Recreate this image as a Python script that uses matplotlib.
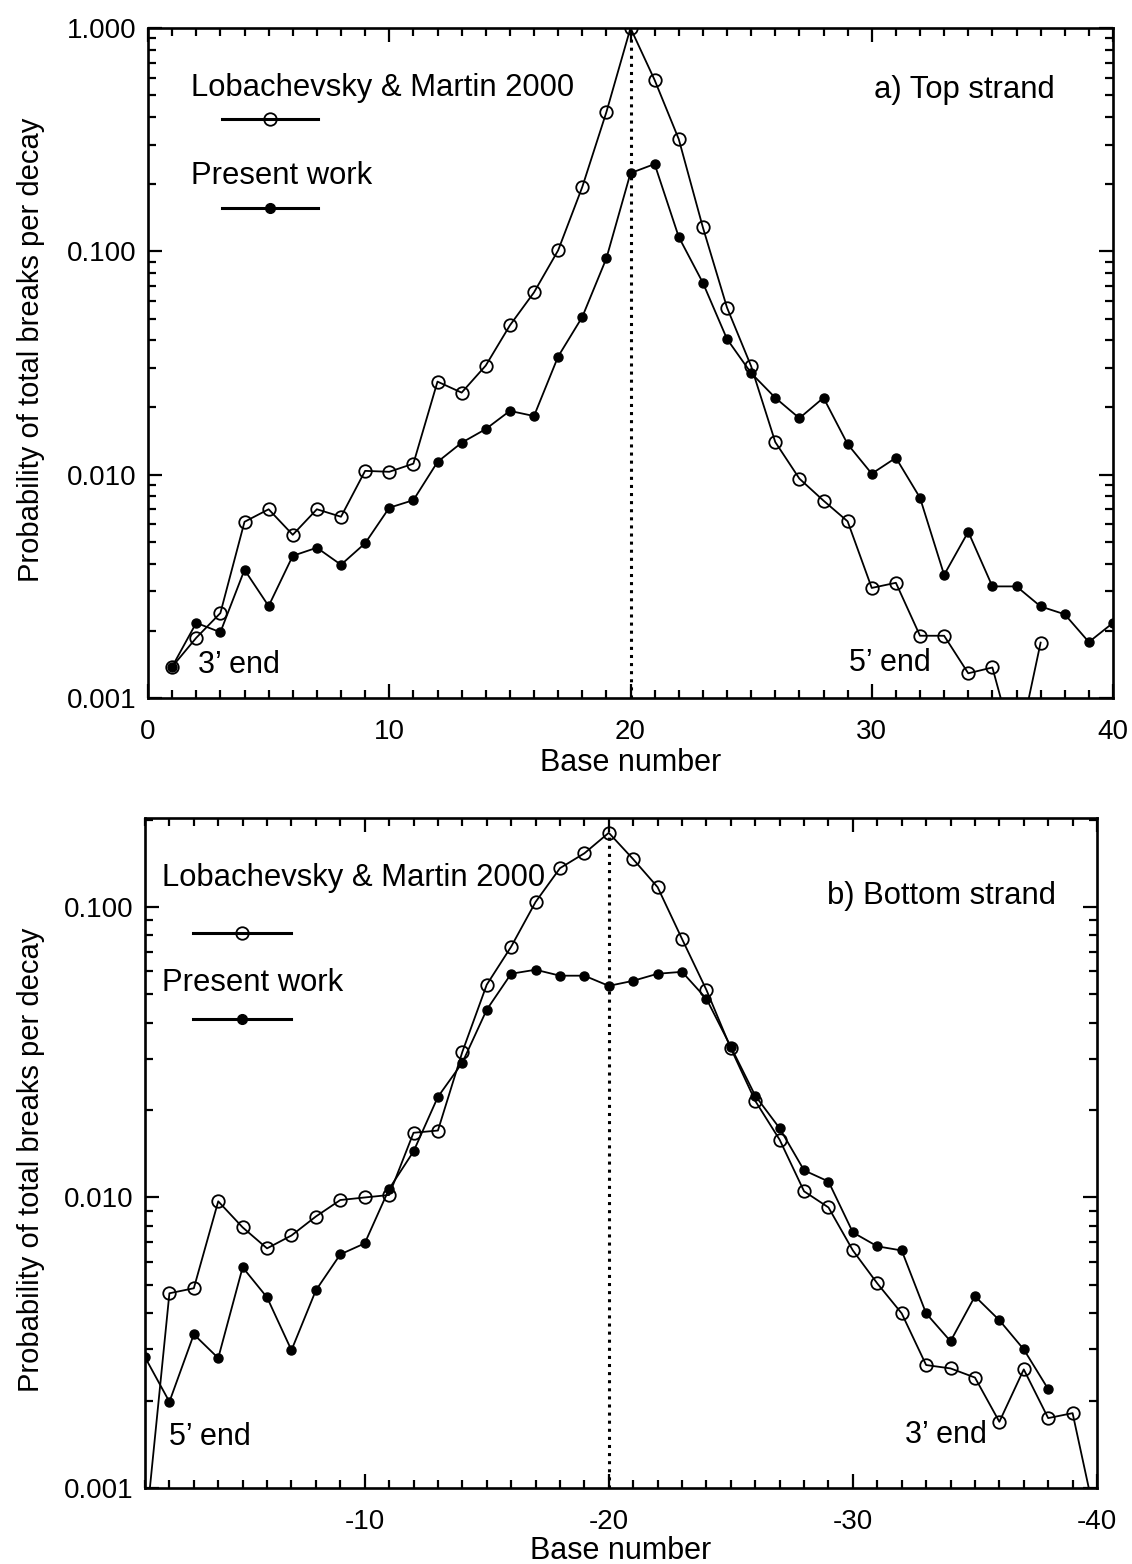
import matplotlib
matplotlib.use('Agg')
import matplotlib.pyplot as plt
import matplotlib.ticker as ticker
import matplotlib.lines as mlines
import numpy as np

plt.rcParams['font.family'] = ['Liberation Sans', 'DejaVu Sans']
plt.rcParams['axes.unicode_minus'] = False

# a) Top strand, base numbers 1..40
top_bases = np.arange(1, 41)
top_lob = [0.00138, 0.00186, 0.0024, 0.00615, 0.0070, 0.00538, 0.0070, 0.00648,
           0.0104, 0.0103, 0.0112, 0.0261, 0.0233, 0.0308, 0.0466, 0.0655,
           0.101, 0.194, 0.42, 1.0, 0.585, 0.318, 0.128, 0.056, 0.0306,
           0.0140, 0.0096, 0.00765, 0.00618, 0.00311, 0.00328, 0.0019, 0.0019,
           0.00129, 0.00137, 0.00055, 0.00177]
top_present = [0.00138, 0.00217, 0.00197, 0.00375, 0.00258, 0.00433, 0.00471,
               0.00395, 0.00493, 0.00711, 0.00769, 0.0114, 0.0139, 0.0160,
               0.0193, 0.0183, 0.0338, 0.0508, 0.093, 0.224, 0.246, 0.116,
               0.0723, 0.0405, 0.0285, 0.0221, 0.0179, 0.0221, 0.0137, 0.0101,
               0.0119, 0.00788, 0.00356, 0.00555, 0.00316, 0.00316, 0.00257,
               0.00237, 0.00178, 0.00217]

# b) Bottom strand, base numbers -1..-40
bottom_bases = -np.arange(1, 41)
bot_lob = [0.00068, 0.00468, 0.00487, 0.0097, 0.00789, 0.00668, 0.0074, 0.0086,
           0.0098, 0.0100, 0.0102, 0.0167, 0.0170, 0.0317, 0.054, 0.073,
           0.104, 0.136, 0.153, 0.18, 0.146, 0.117, 0.0776, 0.0518, 0.0326,
           0.0215, 0.0158, 0.0105, 0.00924, 0.00657, 0.00506, 0.00399, 0.00265,
           0.00258, 0.0024, 0.00169, 0.00256, 0.00174, 0.00181, 0.00074]
bot_present = [0.00282, 0.00198, 0.00338, 0.0028, 0.00575, 0.00453, 0.00298,
               0.00479, 0.00637, 0.00695, 0.0107, 0.0144, 0.0222, 0.0291,
               0.0443, 0.0589, 0.0608, 0.058, 0.058, 0.0535, 0.0557, 0.0589,
               0.0598, 0.0483, 0.0330, 0.0224, 0.0173, 0.0124, 0.01135, 0.00758,
               0.00679, 0.00657, 0.00399, 0.0032, 0.00457, 0.00378, 0.0030,
               0.00219]

fig = plt.figure(figsize=(11.32, 15.64), dpi=100)
ax_top = fig.add_axes([148 / 1132, 1 - 698 / 1564, 965 / 1132, 670 / 1564])
ax_bot = fig.add_axes([145 / 1132, 1 - 1488 / 1564, 952 / 1132, 670 / 1564])

open_style = dict(color='black', lw=1.3, marker='o', markersize=9,
                  markerfacecolor='none', markeredgewidth=1.3)
filled_style = dict(color='black', lw=1.3, marker='o', markersize=6.5)


def style_axes(ax, ylim, yticks):
    ax.set_yscale('log')
    ax.set_ylim(*ylim)
    ax.yaxis.set_major_locator(ticker.FixedLocator(yticks))
    ax.yaxis.set_major_formatter(ticker.FuncFormatter(lambda v, pos: '{:.3f}'.format(v)))
    ax.yaxis.set_minor_locator(ticker.LogLocator(base=10, subs=np.arange(2, 10)))
    ax.yaxis.set_minor_formatter(ticker.NullFormatter())
    ax.xaxis.set_major_locator(ticker.MultipleLocator(10))
    ax.xaxis.set_minor_locator(ticker.MultipleLocator(1))
    ax.tick_params(which='both', direction='in', top=True, right=True, width=1.6)
    ax.tick_params(which='major', length=10, labelsize=20)
    ax.tick_params(axis='x', which='major', pad=15)
    ax.tick_params(axis='y', which='major', pad=8)
    ax.tick_params(which='minor', length=5.5)
    for sp in ax.spines.values():
        sp.set_linewidth(1.9)
    ax.set_xlabel('Base number', fontsize=22)
    ax.set_ylabel('Probability of total breaks per decay', fontsize=21)


def legend_block(ax, tx, ty1, ty2, lx0, lx1, ly1, ly2):
    ax.text(tx, ty1, 'Lobachevsky & Martin 2000', transform=ax.transAxes,
            fontsize=22.3, va='center', ha='left')
    ax.text(tx, ty2, 'Present work', transform=ax.transAxes,
            fontsize=22.3, va='center', ha='left')
    ax.add_line(mlines.Line2D([lx0, lx1], [ly1, ly1], transform=ax.transAxes,
                              color='black', lw=2.2))
    ax.add_line(mlines.Line2D([(lx0 + lx1) / 2], [ly1], transform=ax.transAxes,
                              color='black', marker='o', markersize=9,
                              markerfacecolor='none', markeredgewidth=1.3))
    ax.add_line(mlines.Line2D([lx0, lx1], [ly2, ly2], transform=ax.transAxes,
                              color='black', lw=2.2))
    ax.add_line(mlines.Line2D([(lx0 + lx1) / 2], [ly2], transform=ax.transAxes,
                              color='black', marker='o', markersize=7))


# Top panel
ax_top.plot(top_bases[:len(top_lob)], top_lob, **open_style)
ax_top.plot(top_bases, top_present, **filled_style)
ax_top.vlines(20, 0.001, max(top_lob), colors='black', linestyles=':', lw=2.2)
ax_top.set_xlim(0, 40)
style_axes(ax_top, (0.001, 1.0), [0.001, 0.01, 0.1, 1.0])
ax_top.xaxis.set_label_coords(0.5, -0.074)
ax_top.yaxis.set_label_coords(-0.107, 0.52)
legend_block(ax_top, 0.045, 0.910, 0.779, 0.0767, 0.176, 0.864, 0.731)
ax_top.text(0.940, 0.907, 'a) Top strand', transform=ax_top.transAxes,
            fontsize=22.3, ha='right', va='center')
ax_top.text(0.052, 0.049, '3\u2019 end', transform=ax_top.transAxes,
            fontsize=22, ha='left', va='center')
ax_top.text(0.726, 0.052, '5\u2019 end', transform=ax_top.transAxes,
            fontsize=22, ha='left', va='center')

# Bottom panel
ax_bot.plot(bottom_bases, bot_lob, **open_style)
ax_bot.plot(bottom_bases[:len(bot_present)], bot_present, **filled_style)
ax_bot.vlines(-20, 0.001, max(bot_lob), colors='black', linestyles=':', lw=2.2)
ax_bot.set_xlim(-1, -40)
style_axes(ax_bot, (0.001, 0.2024), [0.001, 0.01, 0.1])
ax_bot.xaxis.set_label_coords(0.5, -0.071)
ax_bot.yaxis.set_label_coords(-0.105, 0.49)
legend_block(ax_bot, 0.018, 0.910, 0.754, 0.0504, 0.153, 0.828, 0.700)
ax_bot.text(0.957, 0.884, 'b) Bottom strand', transform=ax_bot.transAxes,
            fontsize=22.3, ha='right', va='center')
ax_bot.text(0.025, 0.076, '5\u2019 end', transform=ax_bot.transAxes,
            fontsize=22, ha='left', va='center')
ax_bot.text(0.798, 0.079, '3\u2019 end', transform=ax_bot.transAxes,
            fontsize=22, ha='left', va='center')

fig.savefig('out.png', dpi=100)
